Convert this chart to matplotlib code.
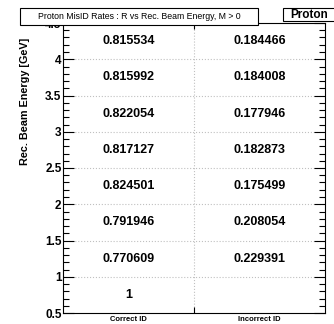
import numpy as np
import matplotlib.pyplot as plt
from matplotlib.patches import Rectangle
from matplotlib.ticker import MultipleLocator, FormatStrFormatter

plt.rcParams['font.family'] = ['Liberation Sans', 'DejaVu Sans']

# Bin edges of the beam energy axis and the two ID categories
energy_edges = [0.5, 1.0, 1.5, 2.0, 2.5, 3.0, 3.5, 4.0, 4.5]
categories = ["Correct ID", "Incorrect ID"]

# Fraction in each energy bin (low to high)
correct_id = [1, 0.770609, 0.791946, 0.824501, 0.817127, 0.822054, 0.815992, 0.815534]
incorrect_id = [0, 0.229391, 0.208054, 0.175499, 0.182873, 0.177946, 0.184008, 0.184466]

fig = plt.figure(figsize=(3.34, 3.24), dpi=100)
ax = fig.add_axes([63 / 334, 1 - 313 / 324, 262 / 334, 290 / 324])

ax.set_xlim(0, 2)
ax.set_ylim(energy_edges[0], energy_edges[-1])

# bin contents as text, empty bins left out
for i in range(len(energy_edges) - 1):
    yc = (energy_edges[i] + energy_edges[i + 1]) / 2
    for j, vals in enumerate([correct_id, incorrect_id]):
        v = vals[i]
        if v == 0:
            continue
        ax.text(j + 0.5, yc, "%g" % v, ha="center", va="center",
                fontsize=9, fontweight="bold")

# dotted grid
for y in np.arange(1.0, 4.01, 0.5):
    ax.axhline(y, color="#c0c0c0", ls=":", lw=0.8, zorder=0)
ax.axvline(1, color="#c0c0c0", ls=":", lw=0.8, zorder=0)

ax.yaxis.set_major_locator(MultipleLocator(0.5))
ax.yaxis.set_minor_locator(MultipleLocator(0.1))
ax.yaxis.set_major_formatter(FormatStrFormatter("%g"))
ax.tick_params(axis="y", which="major", direction="in", length=8, width=0.8,
               right=True, labelsize=8.5, pad=1)
ax.tick_params(axis="y", which="minor", direction="in", length=4, width=0.8, right=True)
for lab in ax.get_yticklabels():
    lab.set_fontweight("bold")

ax.set_xticks([0.5, 1.5])
ax.set_xticklabels(categories, fontsize=5.5, fontweight="bold")
ax.set_xticks([1], minor=True)
ax.tick_params(axis="x", which="major", length=0, pad=2)
ax.tick_params(axis="x", which="minor", direction="in", length=4, width=0.8, top=True)

ax.set_ylabel("Rec. Beam Energy [GeV]", fontsize=7.8, fontweight="bold")
ax.yaxis.set_label_coords(-0.127, 1 - 15 / 290)
ax.yaxis.label.set_ha("right")

for s in ax.spines.values():
    s.set_linewidth(0.8)

# title box and stats box, ROOT style
fig.patches.append(Rectangle((20 / 334, 1 - 25 / 324), 238 / 334, 17 / 324,
                             transform=fig.transFigure, facecolor="white",
                             edgecolor="black", lw=0.8, zorder=5))
fig.text(139 / 334, 1 - 16.5 / 324, "Proton MisID Rates : R vs Rec. Beam Energy, M > 0",
         ha="center", va="center", fontsize=6.3, zorder=6)
fig.patches.append(Rectangle((283 / 334, 1 - 21 / 324), 60 / 334, 13 / 324,
                             transform=fig.transFigure, facecolor="white",
                             edgecolor="black", lw=0.8, zorder=5))
fig.text(290 / 334, 1 - 14.5 / 324, "Proton", ha="left", va="center",
         fontsize=8.5, fontweight="bold", zorder=6)

fig.savefig("out.png", dpi=100)
